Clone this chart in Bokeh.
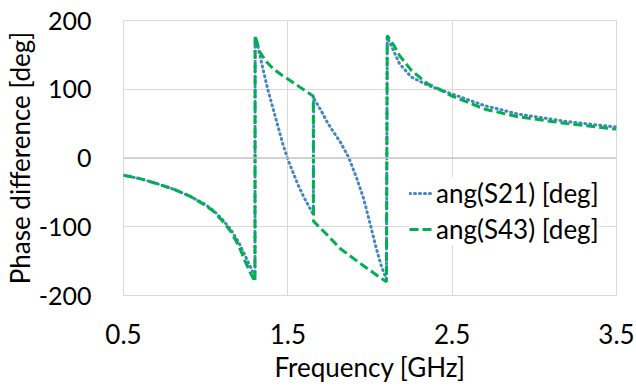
from bokeh.plotting import figure
from bokeh.models import Legend, LegendItem, Span, FixedTicker, Range1d, CustomJSTickFormatter
from bokeh.embed import file_html
from bokeh.resources import INLINE

# ---- data ----
f_s21 = [0.5, 0.6, 0.7, 0.8, 0.9, 1.0, 1.05, 1.1, 1.15, 1.2, 1.24, 1.27, 1.30,
         1.301, 1.32, 1.35, 1.38, 1.41, 1.44, 1.47, 1.50, 1.53, 1.56, 1.60, 1.655,
         1.657, 1.70, 1.74, 1.78, 1.82, 1.87, 1.92, 1.96, 2.00, 2.04, 2.07, 2.10,
         2.105, 2.13, 2.18, 2.25, 2.35, 2.43, 2.5, 2.7, 2.9, 3.2, 3.5]
s21 = [-25, -30, -37, -45, -55, -68, -77, -89, -103, -122, -142, -157, -172,
       176, 160, 128, 98, 72, 46, 20, -2, -20, -38, -58, -82,
       87, 70, 52, 37, 23, 1, -30, -58, -95, -133, -158, -176,
       176, 163, 137, 118, 106, 99, 93, 76, 64, 53, 45]

f_s43 = [0.5, 0.6, 0.7, 0.8, 0.9, 1.0, 1.05, 1.1, 1.15, 1.2, 1.24, 1.27, 1.30,
         1.301, 1.33, 1.37, 1.41, 1.46, 1.5, 1.58, 1.655,
         1.656, 1.74, 1.82, 1.95, 2.05, 2.10,
         2.105, 2.15, 2.18, 2.25, 2.35, 2.43, 2.5, 2.7, 2.9, 3.2, 3.5]
s43 = [-25, -30, -37, -45, -55, -69, -78, -91, -106, -127, -150, -166, -180,
       178, 154, 140, 130, 121, 115, 102, 90,
       -92, -112, -132, -155, -172, -180,
       178, 162, 149, 128, 108, 99, 90, 71, 60, 50, 42]

x_ticks = [0.5, 1.5, 2.5, 3.5]
y_ticks = [-200, -100, 0, 100, 200]
labels = ["ang(S21) [deg]", "ang(S43) [deg]"]

FONT = "Lato"
FS = "26px"
p = figure(width=636, height=386, output_backend="svg", toolbar_location=None,
           x_range=Range1d(0.5, 3.5), y_range=Range1d(-200, 200),
           min_border_left=123, min_border_right=20, min_border_top=20,
           min_border_bottom=91)

p.outline_line_color = "#d9d9d9"
p.outline_line_width = 1
for ax in (p.xaxis[0], p.yaxis[0]):
    ax.axis_line_color = None
    ax.major_tick_line_color = None
    ax.minor_tick_line_color = None
    ax.major_label_text_font = FONT
    ax.major_label_text_font_size = FS
    ax.major_label_text_color = "#000000"
    ax.axis_label_text_font = FONT
    ax.axis_label_text_font_size = FS
    ax.axis_label_text_font_style = "normal"
    ax.axis_label_text_color = "#000000"
    ax.formatter = CustomJSTickFormatter(code="return tick.toString();")

p.yaxis.major_label_text_font_size = "25px"
p.xaxis.ticker = FixedTicker(ticks=x_ticks)
p.yaxis.ticker = FixedTicker(ticks=y_ticks)
p.xaxis.major_label_standoff = 22
p.yaxis.major_label_standoff = 26
p.xaxis.axis_label = "Frequency [GHz]"
p.yaxis.axis_label = "Phase difference [deg]"
p.xaxis.axis_label_standoff = 4
p.yaxis.axis_label_standoff = 0

p.xgrid.ticker = FixedTicker(ticks=x_ticks)
p.ygrid.ticker = FixedTicker(ticks=y_ticks)
p.xgrid.grid_line_color = "#d9d9d9"
p.ygrid.grid_line_color = "#d9d9d9"

p.add_layout(Span(location=0, dimension="width", line_color="#c8c8c8", line_width=1.5))

r1 = p.line(f_s21, s21, line_color="#4485c4", line_width=3, line_dash="1 4",
            line_cap="round")
r2 = p.line(f_s43, s43, line_color="#00b050", line_width=3, line_dash="9 4")

legend = Legend(items=[LegendItem(label=labels[0], renderers=[r1]),
                       LegendItem(label=labels[1], renderers=[r2])],
                location=(286, 50))
legend.border_line_color = None
legend.background_fill_color = "white"
legend.background_fill_alpha = 1.0
legend.label_text_font = FONT
legend.label_text_font_size = FS
legend.label_text_color = "#000000"
legend.glyph_width = 24
legend.label_standoff = 3
legend.spacing = 4
legend.padding = 2
legend.margin = 0
p.add_layout(legend)

open("out.html", "w").write(file_html(p, INLINE))
